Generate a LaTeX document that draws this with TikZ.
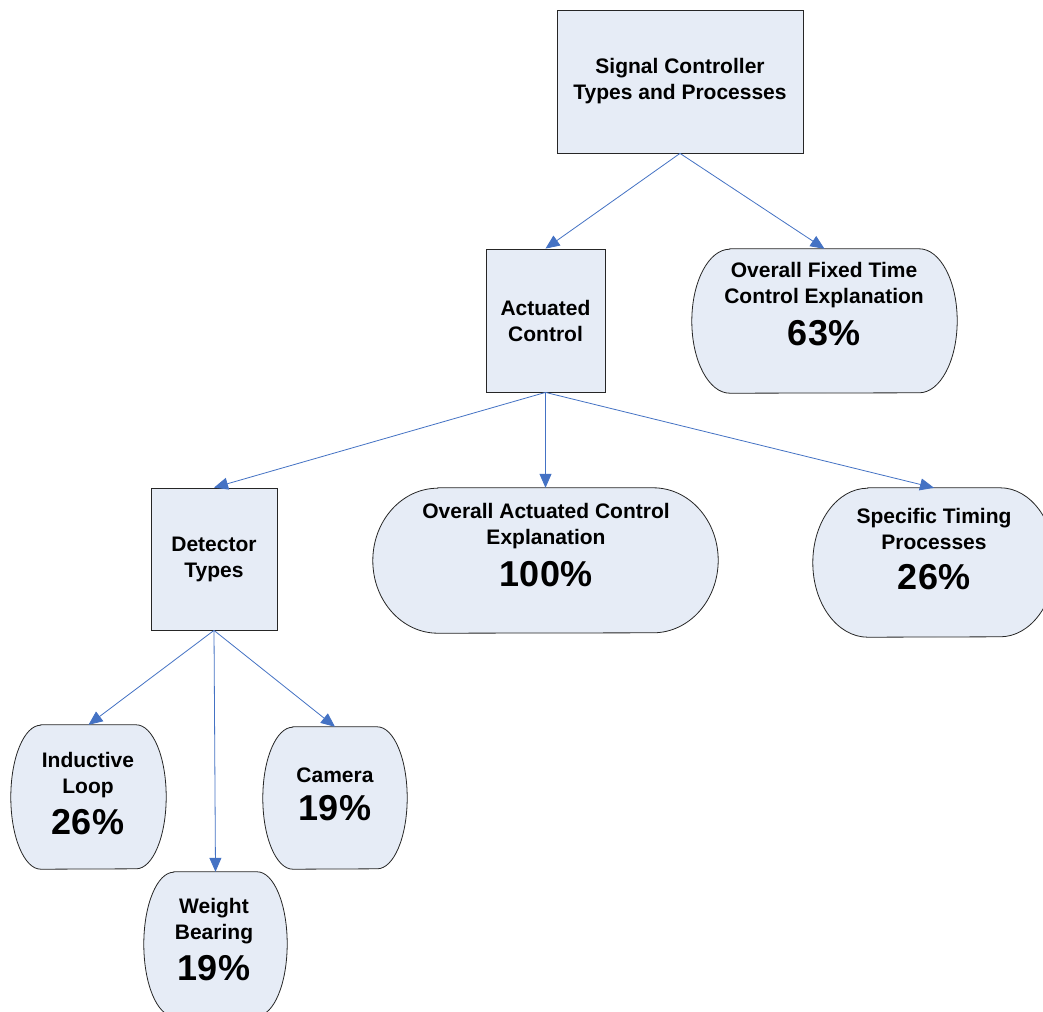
\documentclass[tikz,border=0pt]{standalone}
\usepackage{fontspec}
\setmainfont{Liberation Sans}
\usetikzlibrary{arrows.meta,calc}
\definecolor{boxfill}{HTML}{E6ECF6}
\definecolor{linkblue}{HTML}{4472C4}
% outline of a rounded "pill" around an empty area node: #1 node, #2 x radius, #3 y radius (pt)
\newcommand\drawpill[3]{%
  \path[shapeline] ($(#1.north west)+(#2pt,0)$) -- ($(#1.north east)+(-#2pt,0)$)
    arc[start angle=90,end angle=-90,x radius=#2pt,y radius=#3pt]
    -- ($(#1.south west)+(#2pt,0)$)
    arc[start angle=270,end angle=90,x radius=#2pt,y radius=#3pt] -- cycle;}
\begin{document}
\begin{tikzpicture}[x=1pt,y=-1pt,
  shapeline/.style={draw=black!85, line width=0.8pt, fill=boxfill},
  rectbox/.style={shapeline, inner sep=0pt, align=center,
    font=\fontsize{21}{26}\selectfont\bfseries},
  area/.style={inner sep=0pt, draw=none},
  lbl/.style={align=center, font=\fontsize{21}{26}\selectfont\bfseries, inner sep=0pt},
  pct/.style={font=\fontsize{36}{40}\selectfont\bfseries, inner sep=0pt},
  link/.style={draw=linkblue, line width=0.8pt, -{Triangle[length=14pt,width=12pt]}}]
\clip (0,0) rectangle (1043,1011);
\fill[white] (0,0) rectangle (1043,1011);

% rectangular boxes
\node[rectbox, minimum width=246pt, minimum height=143pt] (top) at (680,81.5)
  {Signal Controller\\Types and Processes};
\node[rectbox, minimum width=119pt, minimum height=143pt] (act) at (545.5,320.5)
  {Actuated\\Control};
\node[rectbox, minimum width=126pt, minimum height=142pt] (det) at (214,559)
  {Detector\\Types};

% areas of the rounded boxes
\node[area, minimum width=265pt, minimum height=144pt] (fixed) at (824.5,321) {};
\node[area, minimum width=345pt, minimum height=145pt] (overall) at (545.5,560.5) {};
\node[area, minimum width=242pt, minimum height=149pt] (spec) at (934,562.5) {};
\node[area, minimum width=155pt, minimum height=144pt] (ind) at (88.5,797) {};
\node[area, minimum width=143pt, minimum height=144pt] (weight) at (215.5,944) {};
\node[area, minimum width=144pt, minimum height=142pt] (cam) at (335,798) {};

\drawpill{fixed}{38}{72}
\drawpill{overall}{65}{72.5}
\drawpill{spec}{55}{74.5}
\drawpill{ind}{30}{72}
\drawpill{weight}{30}{72}
\drawpill{cam}{30}{71}

% texts of the rounded boxes
\node[lbl] (fixedlbl) at (824,285) {Overall Fixed Time\\Control Explanation};
\node[pct] (fixedpct) at (824,333) {63\%};
\node[lbl] (overalllbl) at (546,526) {Overall Actuated Control\\Explanation};
\node[pct] (overallpct) at (546,574) {100\%};
\node[lbl] (speclbl) at (934,529) {Specific Timing\\Processes};
\node[pct] (specpct) at (934,577) {26\%};
\node[lbl] (indlbl) at (88,775) {Inductive\\Loop};
\node[pct] (indpct) at (88,822) {26\%};
\node[lbl] (weightlbl) at (214,921) {Weight\\Bearing};
\node[pct] (weightpct) at (214,968) {19\%};
\node[lbl] (camlbl) at (335,775) {Camera};
\node[pct] (campct) at (335,808) {19\%};

% connectors
\draw[link] (top.south) -- (act.north);
\draw[link] (top.south) -- (fixed.north);
\draw[link] (act.south) -- (det.north);
\draw[link] (act.south) -- (overall.north);
\draw[link] (act.south) -- (spec.north);
\draw[link] (det.south) -- (ind.north);
\draw[link] (det.south) -- (weight.north);
\draw[link] (det.south) -- (cam.north);
\end{tikzpicture}
\end{document}
